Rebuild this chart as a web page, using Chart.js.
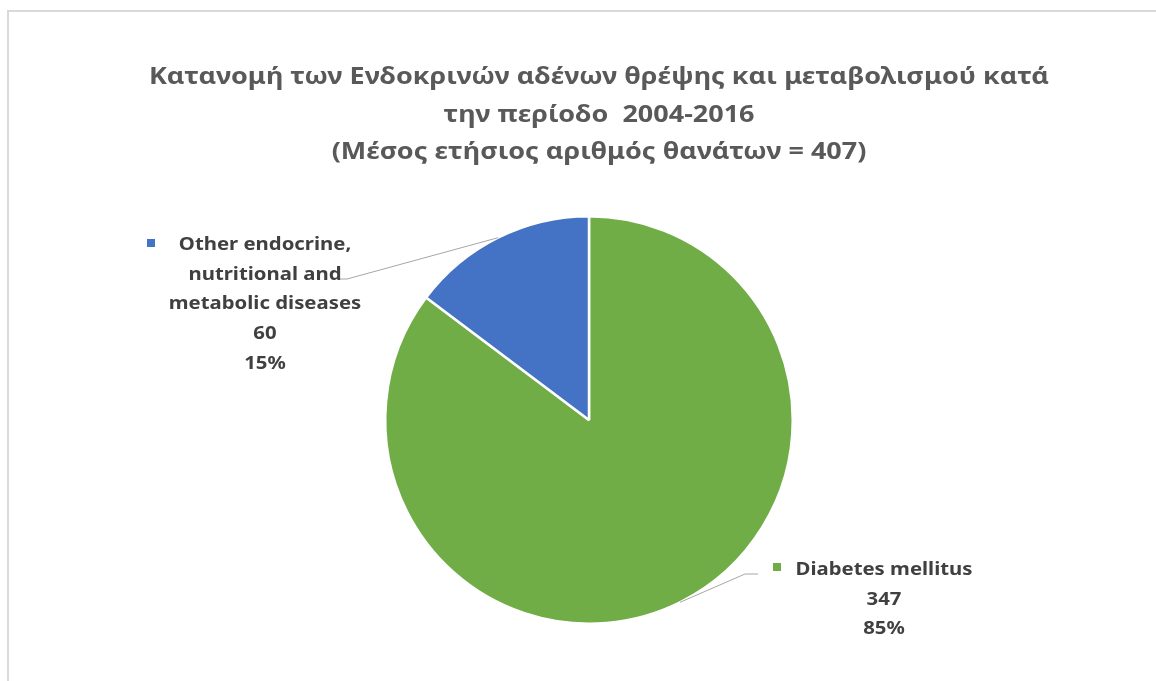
<!DOCTYPE html>
<html>
<head>
<meta charset="utf-8">
<script src="https://cdn.jsdelivr.net/npm/chart.js@4"></script>
<style>
    body { margin: 0; overflow: hidden; background: #fff; }
    #frame { position: absolute; left: 7px; top: 10px; width: 1300px; height: 800px; border: 2px solid #d9d9d9; }
    #chart { position: absolute; left: 0; top: 0; }
</style>
</head>
<body>
<div id="frame"></div>
<canvas id="chart" width="1156" height="681"></canvas>
<script>
// Chart data
const categories = ['Diabetes mellitus', 'Other endocrine, nutritional and metabolic diseases'];
const deaths = [347, 60];
const labelLines = [
    ['Diabetes mellitus'],
    ['Other endocrine,', 'nutritional and', 'metabolic diseases']
];
const titleLines = [
    'Κατανομή των Ενδοκρινών αδένων θρέψης και μεταβολισμού κατά',
    'την περίοδο  2004-2016',
    '(Μέσος ετήσιος αριθμός θανάτων = 407)'
];
const colors = ['#70AD47', '#4472C4'];

const FONT = '"Noto Sans", "Open Sans", sans-serif';

// horizontal squeeze so a reference string gets the wanted width (Calibri is narrow)
function squeeze(ctx, text, width) {
    return width / ctx.measureText(text).width;
}

function drawText(ctx, text, x, y, sx) {
    ctx.save();
    ctx.translate(x, y);
    ctx.scale(sx, 1);
    ctx.fillText(text, 0, 0);
    ctx.restore();
}

// Title, leader lines and data labels
const labelPlugin = {
    id: 'pieLabels',
    afterDraw(chart) {
        const ctx = chart.ctx;
        ctx.save();

        // title
        ctx.font = 'bold 24px ' + FONT;
        const tScale = squeeze(ctx, titleLines[0], 900);
        ctx.fillStyle = '#595959';
        ctx.textAlign = 'center';
        ctx.textBaseline = 'alphabetic';
        const titleBase = [84, 122, 159];
        titleLines.forEach((line, i) => drawText(ctx, line, 599, titleBase[i], tScale));

        const total = deaths.reduce((a, b) => a + b, 0);
        ctx.font = 'bold 18.5px ' + FONT;
        const lScale = squeeze(ctx, 'Diabetes mellitus', 177);

        // label layout: elbow point, line end, text centre, first baseline, key square
        const layout = [
            { elbow: [745, 574], end: [758, 574], cx: 884, y0: 575, key: [773, 563] },
            { elbow: [347, 279], end: [337, 279], cx: 265, y0: 250, key: [147, 239] }
        ];

        const meta = chart.getDatasetMeta(0);
        meta.data.forEach((arc, i) => {
            const p = arc.getProps(['x', 'y', 'startAngle', 'endAngle', 'outerRadius'], true);
            const mid = (p.startAngle + p.endAngle) / 2;
            const sx = p.x + Math.cos(mid) * p.outerRadius;
            const sy = p.y + Math.sin(mid) * p.outerRadius;
            const l = layout[i];

            ctx.strokeStyle = '#a6a6a6';
            ctx.lineWidth = 1;
            ctx.beginPath();
            ctx.moveTo(sx, sy);
            ctx.lineTo(l.elbow[0], l.elbow[1]);
            ctx.lineTo(l.end[0], l.end[1]);
            ctx.stroke();

            const lines = labelLines[i].concat([String(deaths[i]), Math.round(deaths[i] / total * 100) + '%']);
            ctx.fillStyle = '#404040';
            ctx.textAlign = 'center';
            lines.forEach((line, j) => drawText(ctx, line, l.cx, l.y0 + j * 29.7, lScale));

            ctx.fillStyle = colors[i];
            ctx.fillRect(l.key[0], l.key[1], 8, 8);
        });

        ctx.restore();
    }
};

new Chart(document.getElementById('chart'), {
    type: 'pie',
    data: {
        labels: categories,
        datasets: [{
            data: deaths,
            backgroundColor: colors,
            borderColor: '#ffffff',
            borderWidth: 2.5
        }]
    },
    options: {
        responsive: false,
        animation: false,
        layout: { padding: { left: 384, right: 362, top: 215, bottom: 56 } },
        plugins: {
            legend: { display: false },
            title: { display: false },
            tooltip: { enabled: false }
        }
    },
    plugins: [labelPlugin]
});
</script>
</body>
</html>
